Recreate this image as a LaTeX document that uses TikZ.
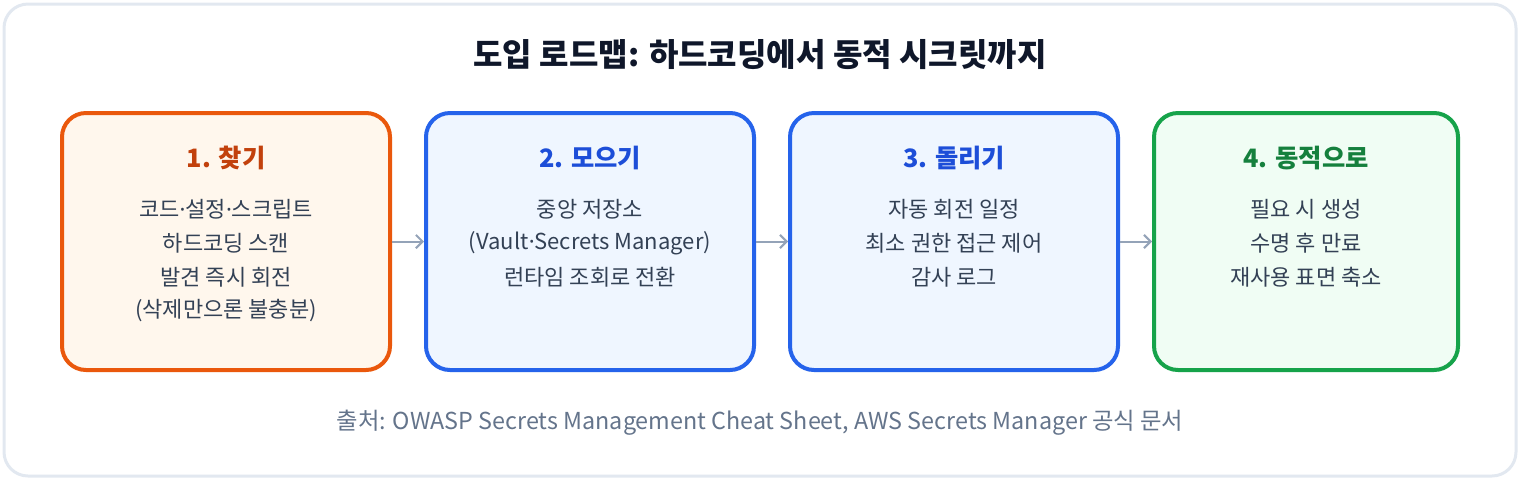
\documentclass[tikz,border=0pt]{standalone}
\usepackage{fontspec}
\setmainfont{Noto Sans CJK KR}
\newfontfamily\narrowdotfont{Noto Sans}
\newcommand{\mdotx}{{\narrowdotfont ·}}
\usetikzlibrary{arrows.meta}
\definecolor{frame}{HTML}{E2E8F0}
\definecolor{titlec}{HTML}{0F172A}
\definecolor{bodyc}{HTML}{334155}
\definecolor{footc}{HTML}{64748B}
\definecolor{arrowc}{HTML}{94A3B8}
\definecolor{orgB}{HTML}{EA580C}
\definecolor{orgF}{HTML}{FFF7ED}
\definecolor{orgT}{HTML}{C2410C}
\definecolor{bluB}{HTML}{2563EB}
\definecolor{bluF}{HTML}{EFF6FF}
\definecolor{bluT}{HTML}{1D4ED8}
\definecolor{grnB}{HTML}{16A34A}
\definecolor{grnF}{HTML}{F0FDF4}
\definecolor{grnT}{HTML}{15803D}
\tikzset{
  stage/.style={draw, line width=3pt, rounded corners=18pt, minimum height=192.75pt, inner sep=0pt},
  stagetitle/.style={font=\fontsize{19}{22}\selectfont\bfseries, inner sep=0pt},
  bodyline/.style={font=\fontsize{16.5}{19}\selectfont, text=bodyc, inner sep=0pt},
  flow/.style={draw=arrowc, line width=1.5pt, -{Straight Barb[length=5pt,width=10pt,line width=1.5pt]}}
}
\begin{document}
\begin{tikzpicture}[x=0.75pt,y=-0.75pt]
\useasboundingbox (0,0) rectangle (1520,480);
\node[draw=frame, line width=2.25pt, fill=white, rounded corners=18pt, minimum width=1512*0.75pt, minimum height=472*0.75pt, inner sep=0pt] (frame) at (760,240) {};
\node[font=\fontsize{24}{27}\selectfont\bfseries, text=titlec, inner sep=0pt] (title) at (760,55) {도입 로드맵: 하드코딩에서 동적 시크릿까지};

\node[stage, draw=orgB, fill=orgF, minimum width=246pt] (s1) at (226,241.5) {};
\node[stage, draw=bluB, fill=bluF, minimum width=246pt] (s2) at (590,241.5) {};
\node[stage, draw=bluB, fill=bluF, minimum width=246pt] (s3) at (954,241.5) {};
\node[stage, draw=grnB, fill=grnF, minimum width=228pt] (s4) at (1306,241.5) {};

\node[stagetitle, text=orgT] (t1) at (226,158) {1. 찾기};
\node[bodyline] (a1) at (226,209) {코드\mdotx 설정\mdotx 스크립트};
\node[bodyline] (a2) at (226,243) {하드코딩 스캔};
\node[bodyline] (a3) at (226,277) {발견 즉시 회전};
\node[bodyline] (a4) at (226,311) {(삭제만으론 불충분)};

\node[stagetitle, text=bluT] (t2) at (590,158) {2. 모으기};
\node[bodyline] (b1) at (590,209) {중앙 저장소};
\node[bodyline] (b2) at (590,243) {(Vault\mdotx Secrets Manager)};
\node[bodyline] (b3) at (590,277) {런타임 조회로 전환};

\node[stagetitle, text=bluT] (t3) at (954,158) {3. 돌리기};
\node[bodyline] (c1) at (954,209) {자동 회전 일정};
\node[bodyline] (c2) at (954,243) {최소 권한 접근 제어};
\node[bodyline] (c3) at (954,277) {감사 로그};

\node[stagetitle, text=grnT] (t4) at (1306,158) {4. 동적으로};
\node[bodyline] (d1) at (1306,209) {필요 시 생성};
\node[bodyline] (d2) at (1306,243) {수명 후 만료};
\node[bodyline] (d3) at (1306,277) {재사용 표면 축소};

\draw[flow] (s1.east) -- (s2.west);
\draw[flow] (s2.east) -- (s3.west);
\draw[flow] (s3.east) -- (s4.west);

\node[font=\fontsize{17.5}{20}\selectfont, text=footc, inner sep=0pt] (src) at (760,423) {출처: OWASP Secrets Management Cheat Sheet, AWS Secrets Manager 공식 문서};
\end{tikzpicture}
\end{document}
